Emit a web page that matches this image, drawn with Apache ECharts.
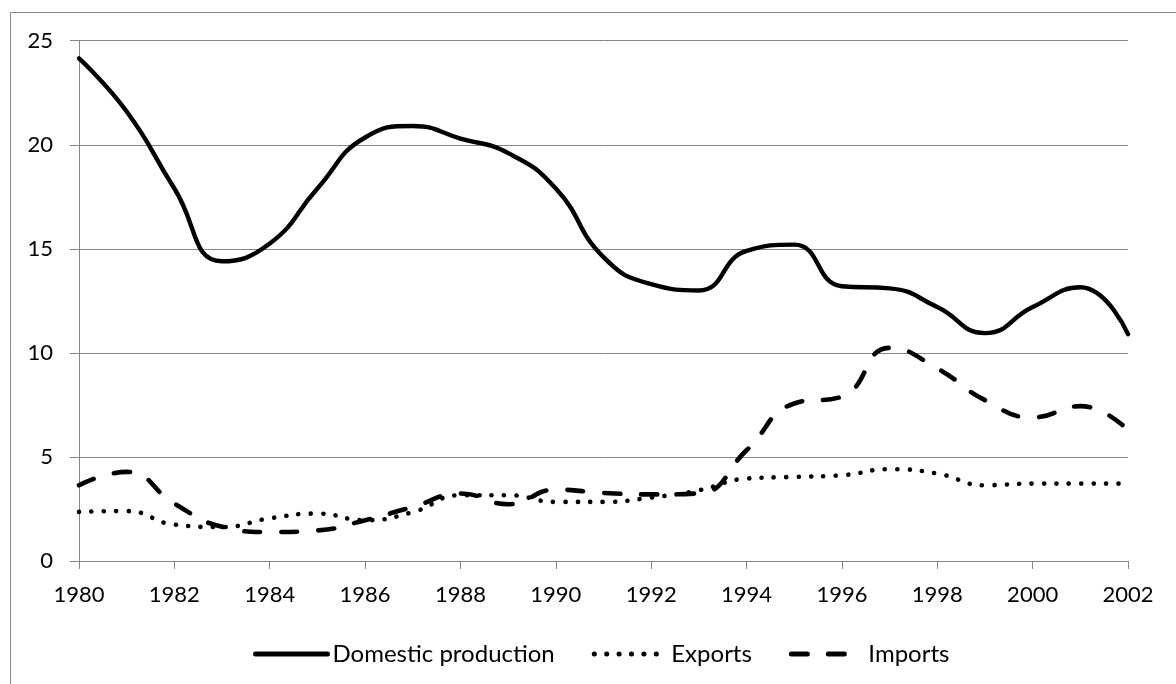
<!DOCTYPE html>
<html>
<head>
<meta charset="utf-8">
<script src="https://cdn.jsdelivr.net/npm/echarts@6/dist/echarts.min.js"></script>
<style>html,body{margin:0;padding:0;background:#fff}#c{width:1176px;height:684px}</style>
</head>
<body>
<div id="c"></div>
<script>
const years = ['1980','1981','1982','1983','1984','1985','1986','1987','1988','1989','1990','1991','1992','1993','1994','1995','1996','1997','1998','1999','2000','2001','2002'];
const domesticProduction = [24.15,21.6,17.9,14.4,15.25,17.9,20.35,20.9,20.3,19.6,17.9,14.6,13.3,13.0,14.9,15.2,13.2,13.1,12.2,10.95,12.2,13.15,10.9];
const exportsData = [2.36,2.4,1.75,1.63,2.05,2.28,1.96,2.35,3.16,3.16,2.84,2.84,3.05,3.4,3.96,4.04,4.12,4.41,4.2,3.64,3.72,3.72,3.72];
const importsData = [3.64,4.28,2.76,1.65,1.39,1.47,1.96,2.6,3.24,2.73,3.43,3.27,3.2,3.25,5.32,7.57,7.9,10.24,9.25,7.73,6.9,7.44,6.28];
const yTicks = {min: 0, max: 25, interval: 5};

const chart = echarts.init(document.getElementById('c'), null, {renderer: 'canvas'});
const font = 'Lato, "Open Sans", sans-serif';
chart.setOption({
  animation: false,
  backgroundColor: '#fff',
  graphic: [{type: 'rect', shape: {x: 10.5, y: 12.5, width: 1200, height: 700}, style: {fill: 'none', stroke: '#868686', lineWidth: 1}, silent: true}],
  grid: {left: 79, right: 48, top: 40.7, bottom: 123, containLabel: false},
  legend: {
    top: 637, left: 248, itemWidth: 72, itemHeight: 14, itemGap: 37,
    itemStyle: {opacity: 0},
    lineStyle: {width: 5},
    textStyle: {fontFamily: font, fontSize: 24, color: '#000'},
    data: ['Domestic production', 'Exports', 'Imports']
  },
  xAxis: {
    type: 'category', data: years, boundaryGap: false,
    axisLine: {lineStyle: {color: '#868686', width: 1}},
    axisTick: {show: true, interval: 1, length: 8, lineStyle: {color: '#868686'}},
    axisLabel: {interval: 1, margin: 23, fontFamily: font, fontSize: 22, color: '#000'},
    splitLine: {show: false}
  },
  yAxis: {
    type: 'value', min: yTicks.min, max: yTicks.max, interval: yTicks.interval,
    axisLine: {show: true, lineStyle: {color: '#868686', width: 1}},
    axisTick: {show: true, length: 9, lineStyle: {color: '#868686'}},
    axisLabel: {margin: 26, fontFamily: font, fontSize: 22, color: '#000'},
    splitLine: {lineStyle: {color: '#868686', width: 1}}
  },
  series: [
    {name: 'Domestic production', type: 'line', data: domesticProduction, smooth: 0.5, showSymbol: false, symbol: 'none',
     lineStyle: {color: '#000', width: 4.4, cap: 'round'}, itemStyle: {color: '#000'}},
    {name: 'Exports', type: 'line', data: exportsData, smooth: 0.5, showSymbol: false, symbol: 'none',
     lineStyle: {color: '#000', width: 4.6, type: [0.1, 12.3], cap: 'round'}, itemStyle: {color: '#000'}},
    {name: 'Imports', type: 'line', data: importsData, smooth: 0.5, showSymbol: false, symbol: 'none',
     lineStyle: {color: '#000', width: 4.6, type: [16, 21], cap: 'round'}, itemStyle: {color: '#000'}}
  ]
});
</script>
</body>
</html>
